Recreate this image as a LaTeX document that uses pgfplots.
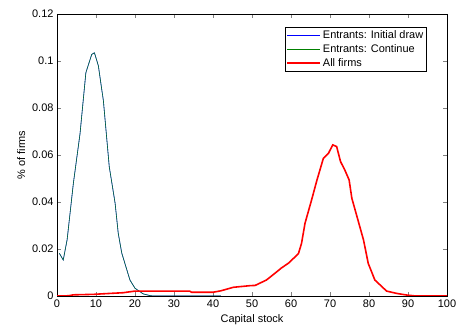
\documentclass[border=0pt]{standalone}
\usepackage{fontspec}
\setmainfont{Liberation Sans}
\usepackage{pgfplots}
\pgfplotsset{compat=1.18}
\usetikzlibrary{calc}
\pgfplotstableread{
x y
0.6 0.0182
1.6 0.0153
2.6 0.024
4.2 0.048
5.9 0.069
7.4 0.095
8.9 0.1028
9.6 0.1035
10.6 0.098
11.9 0.083
13.4 0.055
14.9 0.0395
15.7 0.0267
16.6 0.0183
18.7 0.0068
20.0 0.0033
22.1 0.0009
24 0.0001
26 0
30 0
35 0
42 0
}\entrants
\pgfplotstableread{
x y
42 0
50 0
60 0
70 0
80 0
90 0
100 0
}\contrest
\pgfplotstableread{
x y
0 0
3 0.0001
4.2 0.0005
9.3 0.0007
13.6 0.0011
17 0.0014
20 0.0021
25 0.0021
30 0.0021
34 0.0021
34.5 0.0016
40 0.0016
42 0.0022
45.2 0.0037
49.5 0.0044
50.8 0.0045
53.7 0.0068
55.9 0.0097
57.6 0.012
59.3 0.0139
61.9 0.018
62.7 0.0224
63.6 0.031
65.3 0.041
66.6 0.049
68.3 0.0586
69.6 0.0607
70.7 0.0643
71.7 0.0636
72.7 0.0572
73.8 0.0536
74.9 0.0494
75.6 0.0416
76.8 0.0345
78.6 0.0238
79.8 0.0139
81.5 0.0068
83.3 0.004
84.5 0.0021
87.1 0.0011
89.7 0.0004
92 0
100 0
}\allfirms
\definecolor{mgreen}{RGB}{0,128,0}
\begin{document}
\begin{tikzpicture}
\begin{axis}[
  scale only axis,
  width=390bp, height=282bp,
  xmin=0, xmax=100, ymin=0, ymax=0.12,
  xtick={0,10,...,100},
  ytick={0,0.02,0.04,0.06,0.08,0.1,0.12},
  scaled y ticks=false,
  yticklabel style={/pgf/number format/fixed,/pgf/number format/precision=2},
  /pgf/number format/assume math mode=true,
  tick label style={font=\fontsize{11}{13}\selectfont},
  label style={font=\fontsize{11}{13}\selectfont},
  xlabel={Capital stock},
  ylabel={\% of firms},
  tick align=inside,
  major tick length=4bp,
  axis line style={black, line width=0.5pt},
  legend cell align=left,
  legend style={at={(rel axis cs:0.9487,0.954)}, anchor=north east,
    font=\fontsize{11}{13}\selectfont, draw=black, line width=0.5pt,
    inner sep=1.5pt, row sep=0.5pt},
  legend image code/.code={\draw[#1] (0cm,0cm) -- (33bp,0cm);},
]
\addlegendimage{blue, line width=0.6pt}
\addlegendentry{Entrants: Initial draw}
\addlegendimage{mgreen, line width=0.6pt}
\addlegendentry{Entrants: Continue}
\addplot[blue, line width=0.6pt, forget plot] table {\entrants};
\addplot[mgreen, line width=0.6pt, opacity=0.8, forget plot] table {\entrants};
\addplot[mgreen, line width=0.6pt, forget plot] table {\contrest};
\addplot[red, line width=1.6pt] table {\allfirms};
\addlegendentry{All firms}
\end{axis}
\pgfresetboundingbox
\useasboundingbox ($(current axis.south west)+(-57bp,-33bp)$) rectangle ($(current axis.north east)+(9bp,14bp)$);
\end{tikzpicture}
\end{document}
